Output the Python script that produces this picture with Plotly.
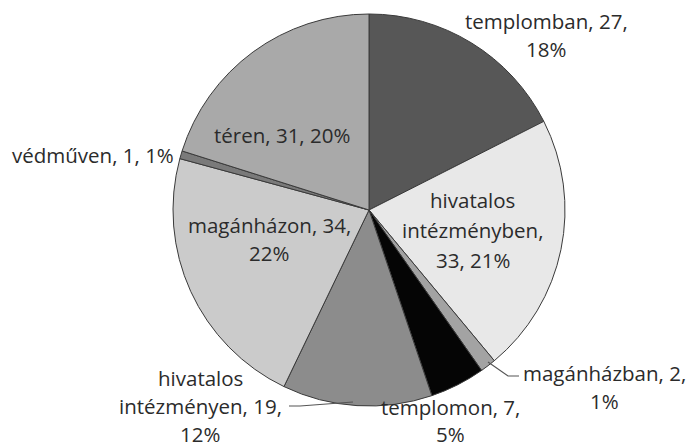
import plotly.graph_objects as go

W, H = 695, 447
OFF = 8  # page body margin: the reference pixel = figure pixel + OFF

labels = ["templomban", "hivatalos intézményben", "magánházban", "templomon",
          "hivatalos intézményen", "magánházon", "védműven", "téren"]
values = [27, 33, 2, 7, 19, 34, 1, 31]
percents = ["18%", "21%", "1%", "5%", "12%", "22%", "1%", "20%"]
colors = ["#575757", "#e8e8e8", "#a3a3a3", "#050505",
          "#8c8c8c", "#cbcbcb", "#7a7a7a", "#a9a9a9"]

# label text lines (as in the original)
label_lines = [
    ["templomban, 27,", "18%"],
    ["hivatalos", "intézményben,", "33, 21%"],
    ["magánházban, 2,", "1%"],
    ["templomon, 7,", "5%"],
    ["hivatalos", "intézményen, 19,", "12%"],
    ["magánházon, 34,", "22%"],
    ["védműven, 1, 1%"],
    ["téren, 31, 20%"],
]
# label block centres (reference pixels) and line spacing
label_pos = [(546, 35), (473, 230), (604, 387), (450, 420),
             (200, 406), (269, 239), (93, 155), (282, 135)]
line_gap = [28, 30, 28, 27, 28, 28, 0, 0]

# leader lines (reference pixels)
leaders = [
    [(488, 362), (508, 376), (519, 376)],
    [(353, 402), (300, 406), (289, 406)],
]

cx, cy, r = 369, 210, 196


def px(x):
    return (x - OFF) / W


def py(y):
    return 1 - (y - OFF) / H


fig = go.Figure(go.Pie(
    labels=labels, values=values, sort=False, direction="clockwise",
    rotation=0, textinfo="none", hoverinfo="label+value+percent",
    marker=dict(colors=colors, line=dict(color="#3a3a3a", width=1)),
    domain=dict(x=[px(cx - r), px(cx + r)], y=[py(cy + r), py(cy - r)]),
    showlegend=False,
))

annotations = []
for lines, (lx, ly0), gap in zip(label_lines, label_pos, line_gap):
    n = len(lines)
    for i, t in enumerate(lines):
        ly = ly0 + (i - (n - 1) / 2) * gap
        annotations.append(dict(
            x=px(lx), y=py(ly), xref="paper", yref="paper",
            text=t, showarrow=False, xanchor="center", yanchor="middle",
            font=dict(family="Open Sans", size=20.5, color="#2b2b2b")))

shapes = []
for pts in leaders:
    path = "M " + " L ".join(f"{px(x)} {py(y)}" for x, y in pts)
    shapes.append(dict(type="path", path=path, xref="paper", yref="paper",
                       line=dict(color="#555555", width=1.2)))

fig.update_layout(
    width=W, height=H, margin=dict(l=0, r=0, t=0, b=0),
    paper_bgcolor="white", plot_bgcolor="white",
    annotations=annotations, shapes=shapes,
)

fig.write_html("out.html")
